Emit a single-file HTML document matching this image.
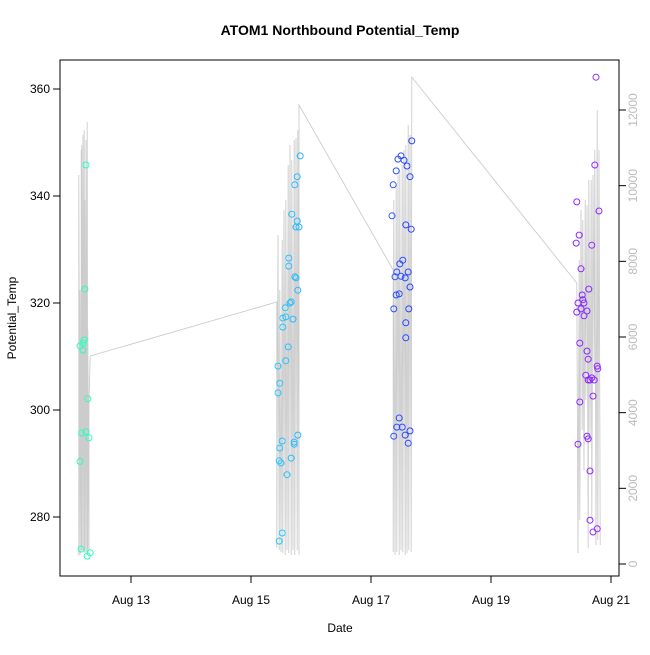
<!DOCTYPE html>
<html><head><meta charset="utf-8"><style>
body{margin:0;background:#fff}
svg text{font-family:"Liberation Sans",sans-serif}
</style></head><body>
<svg id="c" width="650" height="650" xmlns="http://www.w3.org/2000/svg">
<text x="340" y="35" text-anchor="middle" font-size="14" font-weight="bold">ATOM1 Northbound Potential_Temp</text>
<text x="340" y="632" text-anchor="middle" font-size="12">Date</text>
<text transform="translate(16,318) rotate(-90)" text-anchor="middle" font-size="12">Potential_Temp</text>
<g id="depth"></g>
<g id="pts"></g>
<g id="axes"></g>
<rect x="60" y="60" width="559" height="516" fill="none" stroke="#000"/>
</svg>
<script>
const depthTimes=[12.13,12.13,12.15,12.15,12.17,12.17,12.18,12.18,12.2,12.2,12.22,12.22,12.23,12.23,12.25,12.25,12.27,12.27,12.28,12.28,12.3,12.3,12.32,
15.43,15.43,15.45,15.47,15.48,15.5,15.52,15.53,15.55,15.57,15.58,15.6,15.62,15.63,15.65,15.67,15.68,15.7,15.72,15.73,15.75,15.77,15.78,15.8,15.8,
17.37,17.37,17.38,17.4,17.42,17.43,17.45,17.47,17.48,17.5,17.52,17.53,17.55,17.57,17.58,17.6,17.62,17.63,17.65,17.67,17.68,
20.43,20.45,20.47,20.48,20.5,20.52,20.53,20.55,20.57,20.58,20.6,20.62,20.63,20.65,20.67,20.68,20.7,20.72,20.73,20.75,20.77,20.78,20.8,20.82];
const depthValues=[238,10281,238,7242,317,10942,370,11074,317,11338,370,11471,291,9621,317,11206,238,11682,291,6185,370,4335,5497,
6925,423,8695,370,7242,317,8563,291,9357,238,9621,370,10546,291,11074,238,10678,370,11206,238,11259,370,11471,238,12131,
7770,317,9621,238,10017,317,10281,238,10413,370,10546,317,10942,238,11074,291,11603,370,11338,317,12871,
7427,291,8035,1163,9357,3542,9093,2485,9621,4335,9489,423,10149,3277,10149,1163,10281,4863,10942,502,11999,634,10942,502];
const tempTimes=[12.25,12.23,12.22,12.2,12.15,12.2,12.28,12.18,12.25,12.3,12.15,12.17,12.32,12.27,
15.82,15.77,15.73,15.68,15.77,15.75,15.8,15.63,15.63,15.73,15.75,15.78,15.67,15.65,15.57,15.53,15.58,15.7,15.53,15.62,15.58,15.45,15.48,15.45,15.78,15.52,15.72,15.72,15.48,15.47,15.5,15.67,15.6,15.52,15.47,
17.68,17.5,17.45,17.55,17.6,17.42,17.65,17.37,17.35,17.58,17.67,17.53,17.48,17.43,17.62,17.4,17.5,17.57,17.65,17.42,17.47,17.38,17.63,17.58,17.58,17.47,17.43,17.52,17.38,17.57,17.65,17.62,
20.43,20.47,20.42,20.68,20.5,20.73,20.8,20.75,20.52,20.53,20.45,20.55,20.5,20.43,20.6,20.55,20.63,20.48,20.6,20.62,20.77,20.78,20.58,20.68,20.65,20.62,20.72,20.7,20.48,20.45,20.6,20.62,20.65,20.65,20.7,20.77];
const tempValues=[345.8,322.6,313.1,312.5,312.0,311.2,302.1,295.7,295.9,294.8,290.4,274.0,273.3,272.7,
347.5,343.6,342.1,336.6,335.3,334.2,334.2,328.4,326.9,324.9,324.7,322.4,320.2,320.0,319.1,317.2,317.4,317.0,315.5,311.8,309.2,308.2,305.0,303.2,295.3,294.2,294.0,293.6,292.9,290.5,290.1,291.0,287.9,277.0,275.5,
350.3,347.5,346.9,346.7,345.6,344.7,343.6,342.1,336.3,334.6,333.8,328.0,327.3,325.8,325.8,324.9,325.0,324.7,323.0,321.5,321.7,318.9,318.9,316.3,313.5,298.5,296.8,296.8,295.1,295.3,296.1,293.8,
338.9,332.7,331.2,330.8,326.4,345.8,337.2,362.2,321.5,320.6,320.0,320.0,318.9,318.3,318.5,317.6,322.6,312.5,311.0,309.5,308.2,307.7,306.5,306.0,305.6,305.6,305.6,302.6,301.5,293.6,295.1,294.6,288.6,279.4,277.2,277.8];
const xTicks=[13,15,17,19,21];
const xTickLabels=["Aug 13","Aug 15","Aug 17","Aug 19","Aug 21"];
const yTicks=[280,300,320,340,360];
const depthTicks=[0,2000,4000,6000,8000,10000,12000];
const colorStopDays=[12.2,15.6,17.5,20.6];
const colorStopHues=[162,197,230,268];

const NS="http://www.w3.org/2000/svg";
const X=t=>131+(t-13)*60;
const Y=v=>517-(v-280)*5.35;
const YD=d=>564-d*0.037833;
function hue(t){
 for(let i=0;i<colorStopDays.length-1;i++){
  if(t<=colorStopDays[i+1]||i===colorStopDays.length-2){
   const f=Math.max(0,Math.min(1.2,(t-colorStopDays[i])/(colorStopDays[i+1]-colorStopDays[i])));
   return colorStopHues[i]+f*(colorStopHues[i+1]-colorStopHues[i]);
  }
 }
}
function mk(tag,attrs,parent){const e=document.createElementNS(NS,tag);for(const k in attrs)e.setAttribute(k,attrs[k]);parent.appendChild(e);return e;}
const dg=document.getElementById('depth'),pg=document.getElementById('pts'),ag=document.getElementById('axes');
const pl=mk('polyline',{points:depthTimes.map((t,i)=>X(t).toFixed(1)+','+YD(depthValues[i]).toFixed(1)).join(' '),fill:'none',stroke:'#cccccc','stroke-width':0.9},dg);


tempTimes.forEach((t,i)=>{
 const c=mk('circle',{cx:X(t).toFixed(1),cy:Y(tempValues[i]).toFixed(1),r:3,fill:'none',stroke:`hsl(${hue(t).toFixed(0)},100%,58%)`,'stroke-width':1},pg);
 
 
});
xTicks.forEach((t,i)=>{
 const l=mk('line',{x1:X(t),x2:X(t),y1:576,y2:583,stroke:'#000'},ag);
 
 
 const tx=mk('text',{x:X(t),y:604,'text-anchor':'middle','font-size':12},ag);tx.textContent=xTickLabels[i];
 
 
});
yTicks.forEach(v=>{
 const l=mk('line',{x1:53,x2:60,y1:Y(v),y2:Y(v),stroke:'#000'},ag);
 
 
 const tx=mk('text',{x:50,y:Y(v)+4,'text-anchor':'end','font-size':12},ag);tx.textContent=v;
 
 
});
depthTicks.forEach(d=>{
 const l=mk('line',{x1:619,x2:626,y1:YD(d),y2:YD(d),stroke:'#000'},ag);
 
 
 const tx=mk('text',{transform:`translate(637,${YD(d)}) rotate(-90)`,'text-anchor':'middle','font-size':12,fill:'#bbb'},ag);tx.textContent=d;
 
 
});
</script>
</body></html>
